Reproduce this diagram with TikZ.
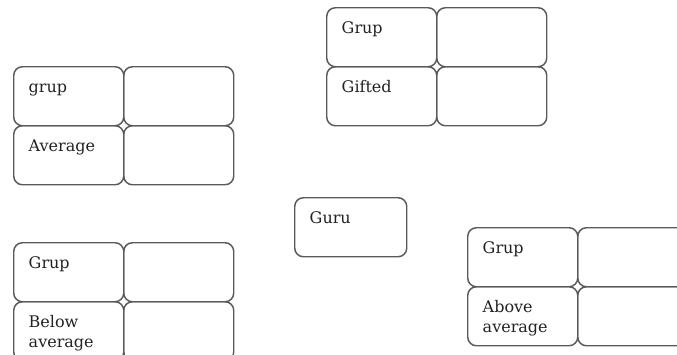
\documentclass[tikz,border=0pt]{standalone}
\usepackage{fontspec}
\setmainfont{DejaVu Serif}

\definecolor{boxline}{HTML}{5A5A5A}
\definecolor{boxtext}{HTML}{222222}

\begin{document}
\begin{tikzpicture}[x=0.75pt,y=-0.75pt,
        cell/.style={draw=boxline, line width=1.1pt, rounded corners=6.5pt,
            anchor=north west, align=left, text=boxtext,
            font=\fontsize{12}{15}\selectfont,
            inner xsep=11.25pt, inner ysep=3pt,
            text width=60pt, text height=16.5pt, text depth=21.75pt},
        wide/.style={text width=61.5pt}]
        \useasboundingbox (0,0) rectangle (677,354); % page size in px
        \clip (0,0) rectangle (677,354);

        % gifted group, top
        \node[cell] (gift11) at (326,7)   {Grup};
        \node[cell] (gift12) at (436,7)   {};
        \node[cell] (gift21) at (326,66)  {Gifted};
        \node[cell] (gift22) at (436,66)  {};

        % average group, left
        \node[cell] (avg11) at (13,66)   {grup};
        \node[cell] (avg12) at (123,66)  {};
        \node[cell] (avg21) at (13,125)  {Average};
        \node[cell] (avg22) at (123,125) {};

        % the teacher in the middle
        \node[cell,wide] (guru) at (294,197) {Guru};

        % below average group, runs off the bottom
        \node[cell] (below11) at (13,242)  {Grup};
        \node[cell] (below12) at (123,242) {};
        \node[cell] (below21) at (13,301)  {Below\\average};
        \node[cell] (below22) at (123,301) {};

        % above average group, runs off the right
        \node[cell] (above11) at (467,227) {Grup};
        \node[cell] (above12) at (577,227) {};
        \node[cell] (above21) at (467,286) {Above\\average};
        \node[cell] (above22) at (577,286) {};
    \end{tikzpicture}
\end{document}
